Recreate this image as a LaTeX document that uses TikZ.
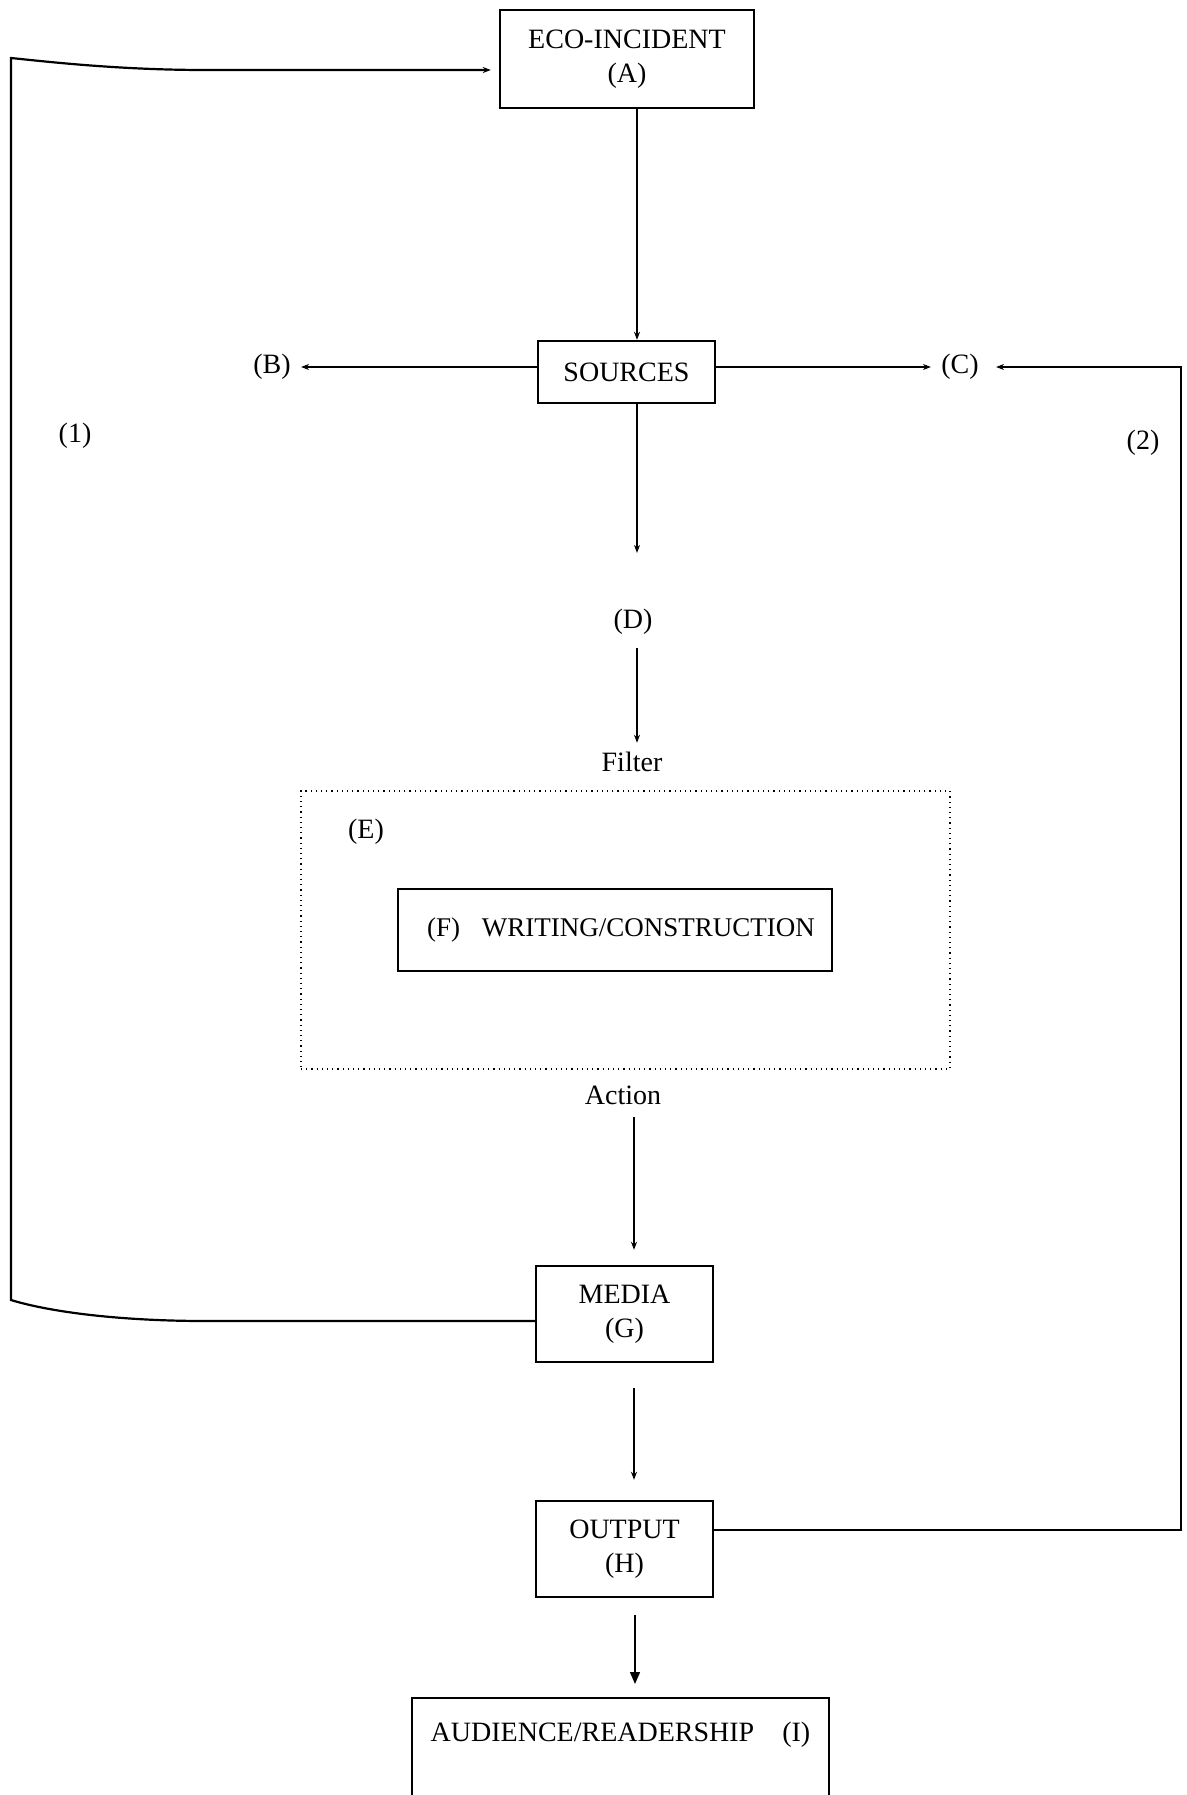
\documentclass[tikz,border=0pt]{standalone}
\usepackage{fontspec}
\setmainfont{Liberation Serif}
\usetikzlibrary{arrows.meta,calc}
\begin{document}
\begin{tikzpicture}[x=0.5pt,y=-0.5pt,
  txt/.style={font=\fontsize{14}{17}\selectfont},
  box/.style={draw,line width=1.2pt,inner sep=0pt,align=center,txt},
  lbl/.style={inner sep=1pt,txt},
  thinline/.style={line width=0.7pt},
  loopline/.style={line width=1.1pt},
  tip/.style={-{Stealth[length=4pt,width=3pt]}},
  bigtip/.style={-{Triangle[length=6pt,width=5pt]}}]
\useasboundingbox (0,0) rectangle (1187,1795);
\clip (0,0) rectangle (1187,1795);
\fill[white] (0,0) rectangle (1187,1795);

% boxes
\node[box,minimum width=127pt,minimum height=49pt] (eco) at (627,59) {ECO-INCIDENT\\(A)};
\node[box,minimum width=88.5pt,minimum height=31pt] (src) at (626.5,372) {SOURCES};
\node[draw,dotted,line width=0.6pt,minimum width=324.5pt,minimum height=139pt] (ebox) at (625.5,930) {};
\node[box,minimum width=217pt,minimum height=41pt,font=\fontsize{13.5}{17}\selectfont] (wri) at (615,930) {\hspace*{6pt}(F)\hspace{11pt}WRITING/CONSTRUCTION};
\node[box,minimum width=88.5pt,minimum height=48pt] (med) at (624.5,1314) {MEDIA\\(G)};
\node[box,minimum width=88.5pt,minimum height=48pt] (out) at (624.5,1549) {OUTPUT\\(H)};
\draw[line width=1.2pt] (412,1830) -- (412,1698) -- (829,1698) -- (829,1830);
\node[lbl] (aud) at (620.5,1735) {AUDIENCE/READERSHIP\hspace{14pt}(I)};
\coordinate (audtop) at (635,1698);

% labels
\node[lbl] (B) at (272,367) {(B)};
\node[lbl] (C) at (960,367) {(C)};
\node[lbl] (one) at (75,436) {(1)};
\node[lbl] (two) at (1143,443) {(2)};
\node[lbl] (D) at (633,622) {(D)};
\node[lbl] (filter) at (632,762) {Filter};
\node[lbl] (E) at (366,832) {(E)};
\node[lbl] (action) at (623,1095) {Action};

% guide columns for the vertical connectors
\coordinate (xa) at (637,0);
\coordinate (xm) at (634,0);
\coordinate (xo) at (635,0);
\coordinate (rc) at (1181,367);
\coordinate (lt) at (11,58);
\coordinate (lb) at (11,1300);

% main flow
\draw[thinline,tip] (eco.south -| xa) -- (src.north -| xa);
\draw[thinline,tip,shorten >=4pt] ([yshift=2.5pt]src.west) -- (B.east);
\draw[thinline,tip,shorten >=4pt] ([yshift=2.5pt]src.east) -- (C.west);
\draw[thinline,tip,shorten >=27pt] (src.south -| xa) -- (D.north -| xa);
\draw[thinline,tip,shorten <=5.5pt,shorten >=3.5pt] (D.south -| xa) -- (filter.north -| xa);
\draw[thinline,tip,shorten <=5pt,shorten >=7.5pt] (action.south -| xm) -- (med.north -| xm);
\draw[thinline,tip,shorten <=12.5pt,shorten >=10pt] (med.south -| xm) -- (out.north -| xm);
\draw[thinline,bigtip,shorten <=8.5pt,shorten >=7pt] (out.south -| xo) -- (audtop);

% feedback loop (2): output back to (C)
\draw[loopline,tip,shorten >=7.5pt] ([yshift=9.5pt]out.east) -| (rc) -- (C.east);

% feedback loop (1): media back to the eco-incident
\draw[loopline,tip,shorten >=4pt] ([yshift=-3.5pt]med.west) -- (206,1321)
  .. controls (120,1321) and (50,1312) .. (lb) -- (lt)
  .. controls (50,62) and (120,70) .. (206,70) -- ([yshift=-5.5pt]eco.west);
\end{tikzpicture}
\end{document}
